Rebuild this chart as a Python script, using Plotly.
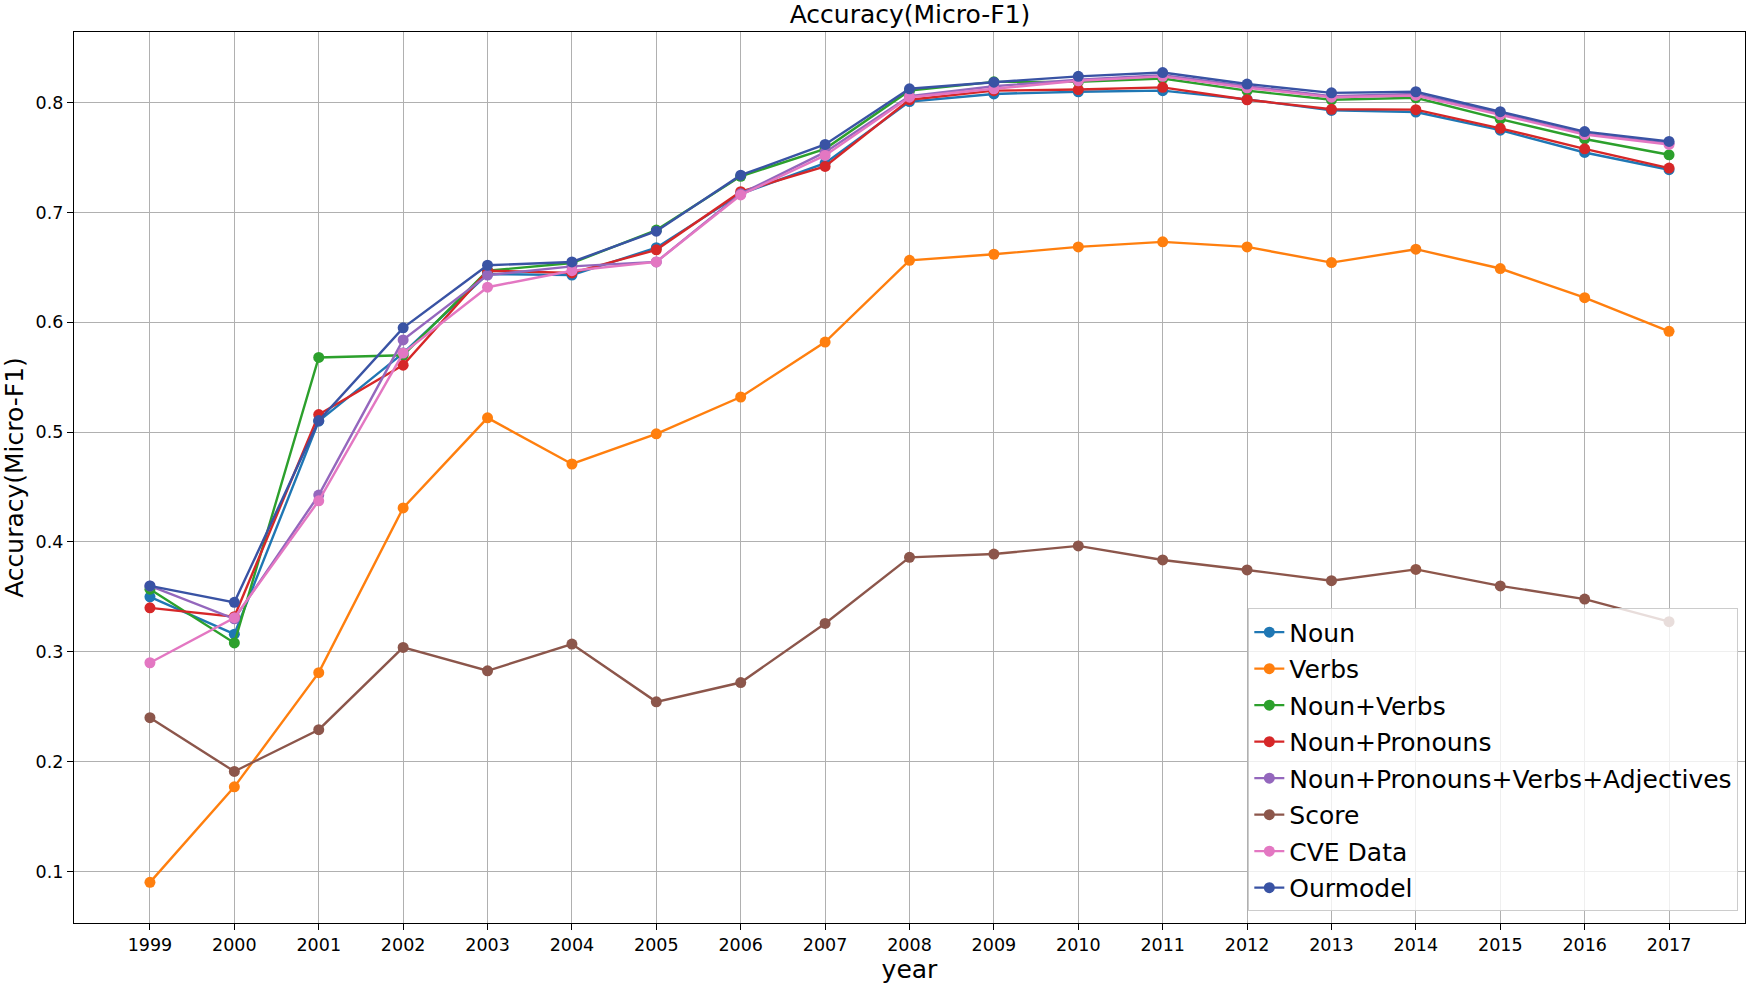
import plotly.graph_objects as go

years = list(range(1999, 2018))

noun = [0.350, 0.316, 0.510, 0.572, 0.644, 0.643, 0.668, 0.717, 0.745, 0.801, 0.808, 0.810, 0.811, 0.803, 0.793, 0.7915, 0.775, 0.7547, 0.739]
verbs = [0.090, 0.177, 0.281, 0.431, 0.513, 0.471, 0.4985, 0.532, 0.582, 0.6565, 0.662, 0.6687, 0.6733, 0.6687, 0.6544, 0.6666, 0.649, 0.6225, 0.5918]
noun_verbs = [0.357, 0.308, 0.568, 0.570, 0.647, 0.654, 0.684, 0.733, 0.758, 0.811, 0.819, 0.819, 0.822, 0.811, 0.8027, 0.8045, 0.785, 0.767, 0.7526]
noun_pronouns = [0.340, 0.332, 0.516, 0.561, 0.647, 0.645, 0.666, 0.719, 0.742, 0.8027, 0.811, 0.812, 0.814, 0.8027, 0.794, 0.7937, 0.7767, 0.758, 0.7405]
npva = [0.360, 0.330, 0.4427, 0.584, 0.643, 0.651, 0.655, 0.717, 0.755, 0.806, 0.815, 0.821, 0.825, 0.815, 0.806, 0.808, 0.790, 0.772, 0.763]
score = [0.240, 0.191, 0.229, 0.304, 0.2827, 0.307, 0.2544, 0.272, 0.3258, 0.386, 0.389, 0.3964, 0.3836, 0.3745, 0.3647, 0.375, 0.360, 0.348, 0.3274]
cve = [0.290, 0.331, 0.4375, 0.572, 0.632, 0.647, 0.655, 0.716, 0.752, 0.805, 0.8127, 0.820, 0.824, 0.8136, 0.805, 0.8066, 0.789, 0.771, 0.762]
ourmodel = [0.360, 0.345, 0.5105, 0.595, 0.652, 0.655, 0.683, 0.734, 0.762, 0.8127, 0.8187, 0.824, 0.8275, 0.817, 0.809, 0.810, 0.7918, 0.7737, 0.7647]

series_names = ["Noun", "Verbs", "Noun+Verbs", "Noun+Pronouns",
                "Noun+Pronouns+Verbs+Adjectives", "Score", "CVE Data", "Ourmodel"]
series_values = [noun, verbs, noun_verbs, noun_pronouns, npva, score, cve, ourmodel]
colors = ["#1f77b4", "#ff7f0e", "#2ca02c", "#d62728", "#9467bd", "#8c564b", "#e377c2", "#3953a4"]
y_ticks = [0.1, 0.2, 0.3, 0.4, 0.5, 0.6, 0.7, 0.8]

FONT = "DejaVu Sans"

fig = go.Figure()
for name, vals, col in zip(series_names, series_values, colors):
    fig.add_trace(go.Scatter(
        x=years, y=vals, name=name, mode="lines+markers",
        legendgroup=name,
        line=dict(color=col, width=2.4),
        marker=dict(color=col, size=11, symbol="circle"),
    ))

fig.update_layout(
    width=1755, height=988,
    margin=dict(l=74, r=9, t=32, b=62),
    paper_bgcolor="white", plot_bgcolor="white",
    font=dict(family=FONT, color="black"),
    title=dict(text="Accuracy(Micro-F1)", x=(74 + (1755 - 9)) / 2 / 1755, xanchor="center",
               y=1 - 14 / 988, yanchor="middle", yref="container",
               font=dict(family=FONT, size=25, color="black")),
    legend=dict(
        x=0.996, y=0.013, xanchor="right", yanchor="bottom",
        bgcolor="rgba(255,255,255,0.8)", bordercolor="#cccccc", borderwidth=1,
        font=dict(family=FONT, size=25, color="black"),
        tracegroupgap=1, itemwidth=30,
    ),
    showlegend=True,
)

fig.update_xaxes(
    range=[1998.1, 2017.9], tickmode="array", tickvals=years, ticktext=[str(y) for y in years],
    showgrid=True, gridcolor="#b0b0b0", gridwidth=1.2,
    showline=True, linecolor="black", linewidth=1.2, mirror=True,
    ticks="outside", ticklen=6, tickcolor="black", tickwidth=1,
    tickfont=dict(family=FONT, size=17.5, color="black"),
    title=dict(text="year", font=dict(family=FONT, size=25, color="black"), standoff=6),
    zeroline=False,
)
fig.update_yaxes(
    range=[0.053, 0.8644], tickmode="array", tickvals=y_ticks,
    ticktext=[f"{v:.1f}" for v in y_ticks],
    showgrid=True, gridcolor="#b0b0b0", gridwidth=1.2,
    showline=True, linecolor="black", linewidth=1.2, mirror=True,
    ticks="outside", ticklen=6, tickcolor="black", tickwidth=1,
    tickfont=dict(family=FONT, size=17.5, color="black"),
    title=dict(text="Accuracy(Micro-F1)", font=dict(family=FONT, size=25, color="black"), standoff=8),
    zeroline=False,
)

fig.write_html("out.html", config={"displayModeBar": False},
               post_script="document.body.style.margin='0px';document.body.style.overflow='hidden';")
